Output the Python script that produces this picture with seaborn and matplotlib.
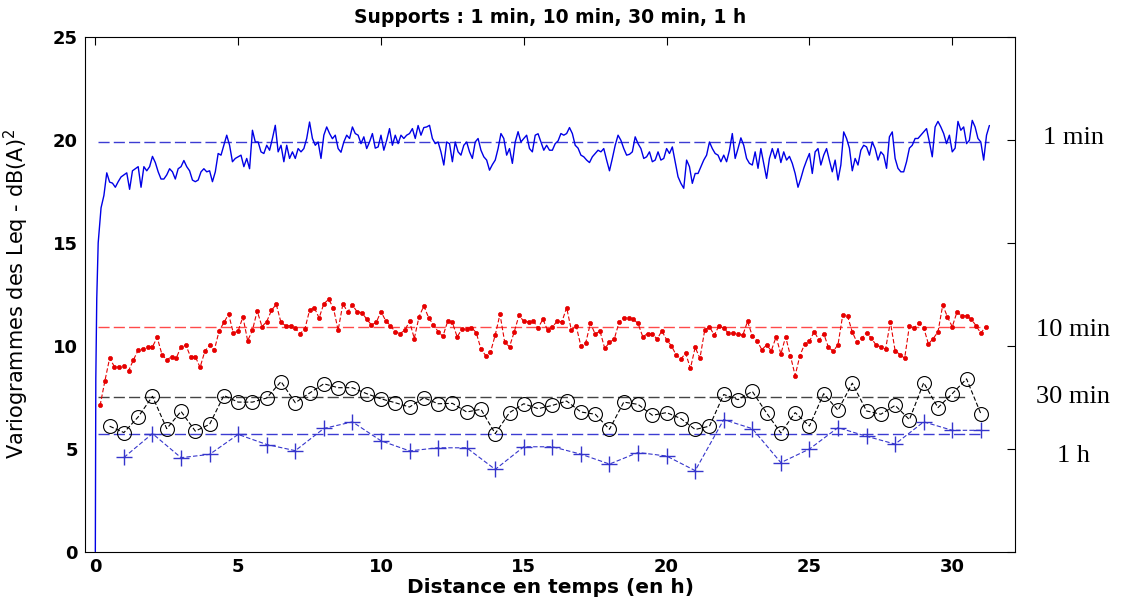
import numpy as np
import pandas as pd
import matplotlib
matplotlib.use("Agg")
import matplotlib.pyplot as plt
import seaborn as sns

# ---------------- data ----------------
title = "Supports : 1 min, 10 min, 30 min, 1 h"
xlabel = "Distance en temps (en h)"
ylabel = "Variogrammes des Leq - dB(A)$^2$"
series_labels = ["1 min", "10 min", "30 min", "1 h"]
xticks = [0, 5, 10, 15, 20, 25, 30]
yticks = [0, 5, 10, 15, 20, 25]

# 1-min support: first lags, then one reading every 0.1 h (0.1 .. 31.3 h)
lag_1min_start = [0.0, 0.0167, 0.05]
gamma_1min_start = [0.0, 8.4, 12.3]
gamma_1min = [
    15.0, 16.7, 17.3, 18.4, 17.95, 17.9, 17.7, 17.97, 18.2, 18.3,
    18.4, 17.6, 18.5, 18.6, 18.7, 17.7, 18.7, 18.5, 18.7, 19.2,
    18.9, 18.45, 18.1, 18.1, 18.3, 18.6, 18.45, 18.1, 18.6, 18.7,
    19.0, 18.7, 18.5, 18.05, 17.97, 18.05, 18.45, 18.6, 18.45, 18.5,
    17.97, 18.45, 19.34, 19.26, 19.74, 20.23, 19.74, 18.94, 19.1, 19.18,
    19.26, 18.7, 19.1, 18.6, 20.47, 19.9, 19.9, 19.42, 19.34, 19.74,
    19.5, 20.07, 20.71, 19.42, 19.74, 18.94, 19.74, 19.1, 19.42, 19.1,
    19.58, 19.42, 19.58, 20.07, 20.87, 20.07, 19.74, 19.9, 19.1,
    20.23, 20.63, 20.31, 20.06, 20.23, 19.58, 19.4, 19.9, 20.23, 20.07,
    20.63, 20.31, 20.23, 19.82, 20.15, 19.58, 19.9, 20.31, 19.6, 19.66,
    20.23, 19.5, 19.98, 20.55, 19.74, 20.23, 19.82, 20.23, 20.07, 20.23,
    20.31, 20.55, 20.07, 20.7, 20.23, 20.6, 20.63, 20.71, 20.07, 19.82,
    19.9, 19.42, 18.78, 19.9, 19.82, 18.94, 19.9, 19.42, 19.26, 19.74,
    19.9, 19.42, 19.1, 19.9, 20.07, 19.5, 19.18, 19.02, 18.53, 18.8,
    19.02, 19.58, 20.31, 20.07, 19.26, 19.58, 18.86, 19.9, 20.4, 19.9,
    20.07, 20.23, 19.58, 19.42, 20.23, 20.3, 19.9, 19.5, 19.74, 19.5,
    19.5,
    19.82, 19.95, 20.31, 20.23, 20.31, 20.6, 20.31, 19.74, 19.6, 19.26,
    19.18, 19.02, 18.9, 19.18, 19.34, 19.5, 19.42, 19.58, 19.02, 18.5,
    19.1, 19.74, 20.23, 19.98, 19.58, 19.26, 19.3, 19.42, 20.15, 19.82,
    19.58, 19.1, 19.18, 19.42, 18.94, 19.02, 19.42, 19.02, 19.1, 19.58,
    19.34, 19.66, 18.94, 18.21, 17.89, 17.65, 19.02, 18.7, 17.89, 18.37,
    18.37, 18.7, 19.02, 19.26, 19.9, 19.58, 19.34, 19.26, 18.94, 19.26,
    18.94, 19.5, 20.31, 19.1, 19.58, 20.1, 19.74, 19.1, 18.86, 18.78,
    19.42, 18.62, 19.58, 18.86, 18.13, 19.1, 19.58, 19.1, 19.58, 18.9,
    19.42, 19.02, 19.2, 18.86, 18.37, 17.7, 18.13, 18.62, 19.0, 19.34,
    18.37, 19.42, 19.58, 18.78, 19.26, 19.58, 19.0, 18.45, 19.02, 18.05,
    18.78, 20.39, 20.07, 19.6, 18.5, 19.1, 18.78, 19.5, 19.74, 19.66,
    19.26, 19.9, 19.58, 19.02, 19.42, 19.26, 18.62, 20.15, 20.39, 19.1,
    18.62, 18.45, 18.45, 18.94, 19.6, 19.74, 20.07, 20.07, 20.23, 20.39,
    20.55, 19.9, 19.18, 20.63, 20.9, 20.63, 20.31, 19.82, 20.23, 19.42,
    19.6, 20.9, 20.47, 20.63, 19.82, 19.98, 20.95, 20.63, 20.07, 19.9,
    19.02, 20.23, 20.7,
]

# 10-min support: one value every 10 min (1/6 h .. 31.17 h)
gamma_10min = [
    7.10, 8.28, 9.39, 8.99, 8.95, 9.03, 8.79, 9.31, 9.79, 9.84,
    9.95, 9.95, 10.40, 9.57, 9.31, 9.47, 9.40, 9.95, 10.03, 9.47,
    9.47, 8.95, 9.73, 10.03, 9.79, 10.72, 11.13, 11.53, 10.61, 10.72,
    11.40, 10.24, 10.75, 11.69, 10.93, 11.17, 11.72, 12.01, 11.13, 10.97,
    10.97, 10.84, 10.59, 10.80, 11.72, 11.85, 11.35, 12.04, 12.25, 11.85,
    10.75, 12.04, 11.64, 11.98, 11.64, 11.61, 11.29, 11.01, 11.13, 11.66,
    11.21, 10.97, 10.68, 10.59, 10.75, 11.18, 10.35, 11.41, 11.93, 11.37,
    11.01, 10.69, 10.45, 11.18, 11.13, 10.43, 10.80, 10.80, 10.88, 10.64,
    9.84, 9.52, 9.68, 10.52, 11.53, 10.16, 9.95, 10.68, 11.48, 11.18,
    11.16, 11.21, 10.85, 11.29, 10.75, 10.92, 11.18, 11.16, 11.85, 10.75,
    10.97, 9.97, 10.13, 11.10, 10.56, 10.72, 9.87, 10.16, 10.32, 11.13,
    11.37, 11.34, 11.29, 11.08, 10.43, 10.59, 10.59, 10.32, 10.72, 10.29,
    10.00, 9.55, 9.36, 9.63, 8.90, 9.92, 9.39, 10.75, 10.93, 10.51,
    10.97, 10.85, 10.61, 10.61, 10.56, 10.51, 11.18, 10.48, 10.24, 9.81,
    10.03, 9.76, 10.43, 9.60,
    10.43, 9.52, 8.55, 9.52, 10.08, 10.21, 10.69, 10.27, 10.59, 9.92,
    9.73, 10.05, 11.50, 11.45, 10.67, 10.16, 10.37, 10.64, 10.37, 10.03,
    9.95, 9.84, 11.16, 9.76, 9.57, 9.39, 10.97, 10.88, 11.08, 10.88,
    10.08, 10.35, 10.67, 11.97, 11.40, 10.92, 11.64, 11.45, 11.45, 11.29,
    10.97, 10.61, 10.92,
]

# 30-min support: one value every 0.5 h (0.5 .. 31 h)
gamma_30min = [
    6.09, 5.78, 6.54, 7.54, 5.97, 6.81, 5.85, 6.18, 7.58, 7.26,
    7.26, 7.46, 8.26, 7.23, 7.70, 8.15, 7.96, 7.96, 7.67, 7.42,
    7.23, 7.02, 7.47, 7.18, 7.20, 6.78, 6.91, 5.73, 6.75, 7.18,
    6.94, 7.10, 7.31, 6.78, 6.67, 5.94, 7.26, 7.15, 6.62, 6.75,
    6.46, 5.93, 6.09, 7.63, 7.38, 7.78, 6.73, 5.76, 6.75, 6.10,
    7.67, 6.86, 8.18, 6.83, 6.67, 7.10, 6.41, 8.20, 6.99, 7.67,
    8.39, 6.70,
]

# 1-h support: one value every hour (1 .. 31 h)
gamma_1h = [
    4.57, 5.73, 4.56, 4.72, 5.69, 5.20, 4.90, 5.98, 6.30, 5.38,
    4.89, 5.04, 5.04, 3.99, 5.09, 5.09, 4.73, 4.25, 4.81, 4.64,
    3.93, 6.41, 5.97, 4.32, 4.98, 6.02, 5.60, 5.22, 6.30, 5.89,
    5.89,
]

# sills (dashed horizontal reference lines) and their extent in hours
sills = [19.9, 10.92, 7.5, 5.73]
sill_start = [0.1, 0.1, 0.1, 0.1]
sill_end = [31.3, 31.17, 30.5, 31.0]

# ---------------- build frames ----------------
lag_1min = list(lag_1min_start) + list(np.round(np.arange(1, len(gamma_1min) + 1) * 0.1, 2))
df_1min = pd.DataFrame({"lag": lag_1min, "gamma": list(gamma_1min_start) + gamma_1min})
df_10 = pd.DataFrame({"lag": np.arange(1, len(gamma_10min) + 1) / 6.0, "gamma": gamma_10min})
df_30 = pd.DataFrame({"lag": np.arange(1, len(gamma_30min) + 1) * 0.5, "gamma": gamma_30min})
df_1h = pd.DataFrame({"lag": np.arange(1, len(gamma_1h) + 1) * 1.0, "gamma": gamma_1h})

# ---------------- style ----------------
sns.set_style("white")
plt.rcParams["font.family"] = ["DejaVu Sans"]
plt.rcParams["mathtext.default"] = "regular"
plt.rcParams["text.color"] = "black"
plt.rcParams["axes.labelcolor"] = "black"
plt.rcParams["xtick.color"] = "black"
plt.rcParams["ytick.color"] = "black"

fig = plt.figure(figsize=(11.25, 6), dpi=100)
ax = fig.add_axes([0.0756, 0.0808, 0.8267, 0.8575])

c_1min = "#0000e6"
c_10 = "#e60000"
c_30 = "#000000"
c_1h = "#3535cc"
sill_colors = ["#3c3cd2", "#ff4a4a", "#444444", "#3c3cd2"]

# sill lines
for s, x0, x1, col in zip(sills, sill_start, sill_end, sill_colors):
    sns.lineplot(x=[x0, x1], y=[s, s], ax=ax, color=col, lw=1.0,
                 linestyle=(0, (8, 3)), errorbar=None)

# series
sns.lineplot(data=df_1min, x="lag", y="gamma", ax=ax, color=c_1min, lw=1.0,
             errorbar=None, sort=False)
sns.lineplot(data=df_10, x="lag", y="gamma", ax=ax, color=c_10, lw=0.8,
             linestyle=(0, (4, 2)), marker="o", markersize=3,
             markerfacecolor=c_10, markeredgecolor=c_10, markeredgewidth=0.5,
             errorbar=None)
sns.lineplot(data=df_30, x="lag", y="gamma", ax=ax, color=c_30, lw=0.8,
             linestyle=(0, (4, 2)), marker="o", markersize=10,
             markerfacecolor="none", markeredgecolor=c_30, markeredgewidth=0.8,
             errorbar=None)
sns.lineplot(data=df_1h, x="lag", y="gamma", ax=ax, color=c_1h, lw=0.8,
             linestyle=(0, (4, 2)), marker="+", markersize=11,
             markeredgecolor=c_1h, markeredgewidth=1.0,
             errorbar=None)

# axes
ax.set_xlim(-0.36, 32.2)
ax.set_ylim(0, 25)
ax.set_xticks(xticks)
ax.set_yticks(yticks)
ax.tick_params(direction="in", length=6, width=0.8, top=True, right=True,
               labelsize=13, pad=5)
for lab in ax.get_xticklabels() + ax.get_yticklabels():
    lab.set_fontweight("bold")
for sp in ax.spines.values():
    sp.set_visible(True)
    sp.set_color("black")
    sp.set_linewidth(0.8)

ax.set_title(title, fontsize=13.5, fontweight="bold", pad=10)
ax.set_xlabel(xlabel, fontsize=14.5, fontweight="bold", labelpad=1)
ax.set_ylabel(ylabel, fontsize=15)
ax.yaxis.set_label_coords(-0.058, 0.5)

# right-hand labels
label_y = [20.1, 10.75, 7.5, 4.65]
for txt, yv in zip(series_labels, label_y):
    ax.text(1.0624, yv, txt, transform=ax.get_yaxis_transform(),
            ha="center", va="center", fontsize=19, color="black",
            family=["Liberation Serif", "DejaVu Serif"], clip_on=False)

fig.savefig("out.png", dpi=100, facecolor="white")
